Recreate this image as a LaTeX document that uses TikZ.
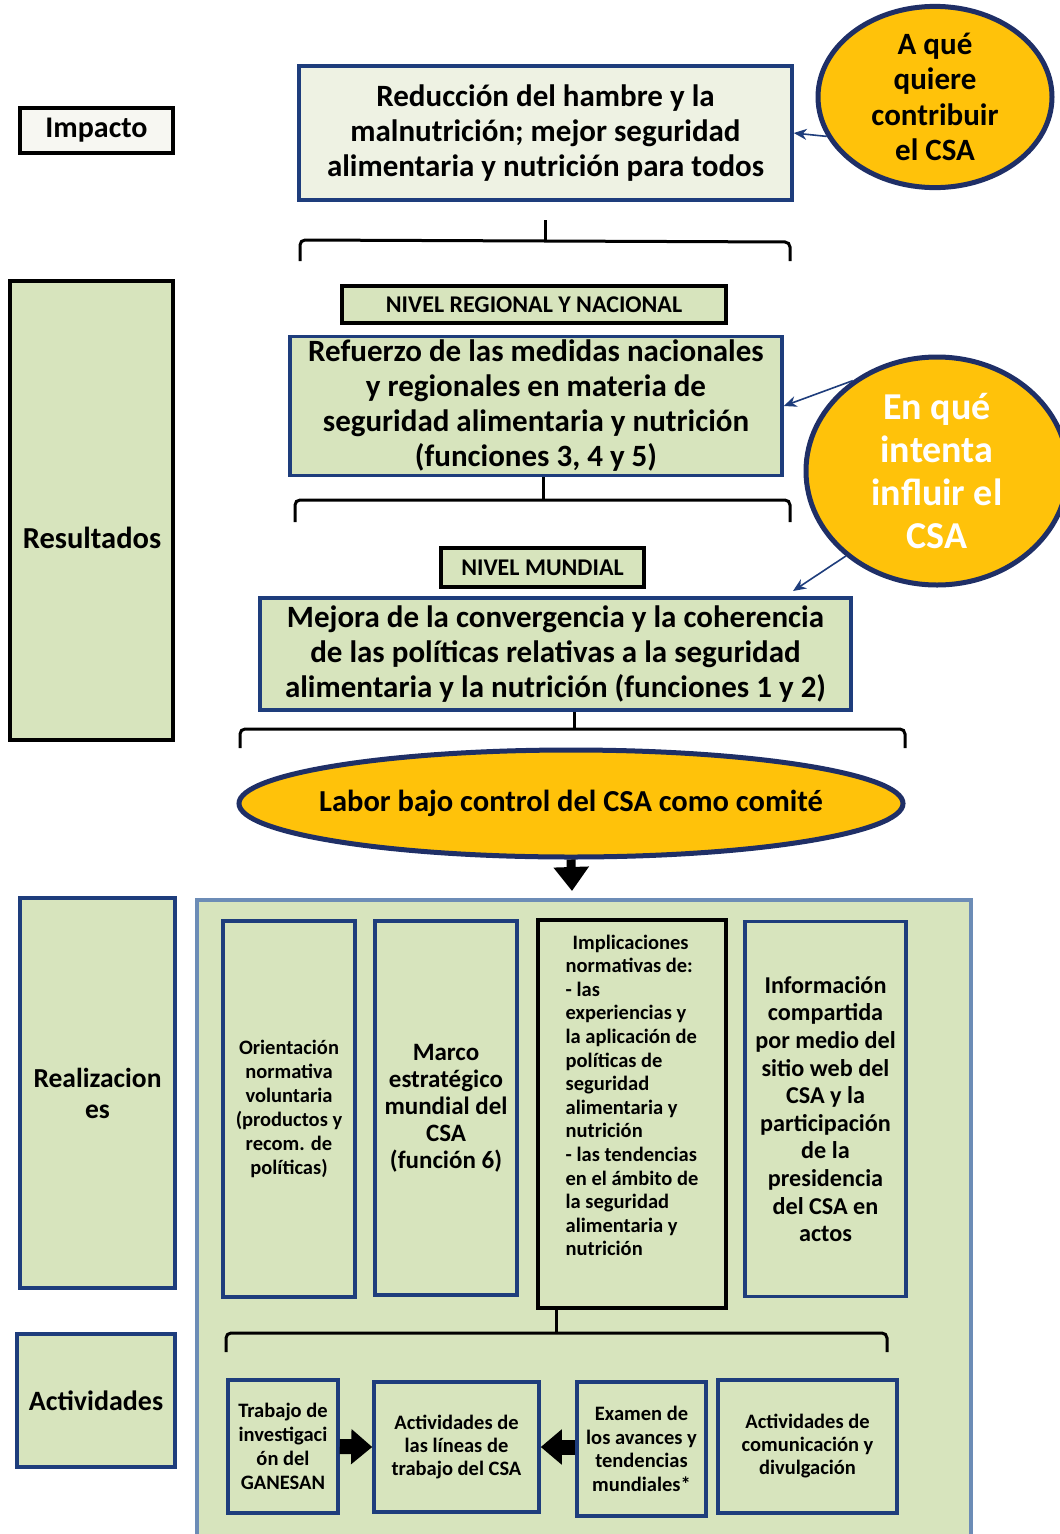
\documentclass[tikz,border=0pt]{standalone}
\usepackage{fontspec}
\setmainfont{Carlito}
\usetikzlibrary{arrows.meta,shapes.geometric,calc}
\definecolor{lgreen}{HTML}{D7E4BD}
\definecolor{pale}{HTML}{EEF2E3}
\definecolor{offwhite}{HTML}{F7F7F2}
\definecolor{navy}{HTML}{1E3D7C}
\definecolor{dnavy}{HTML}{1F2F66}
\definecolor{gold}{HTML}{FFC20A}
\definecolor{steel}{HTML}{6C8CB6}
\newcommand{\myfs}[2]{\fontsize{#1}{#2}\selectfont\bfseries}
\begin{document}
\begin{tikzpicture}[x=1pt,y=-1pt,
  sz/.style n args={2}{minimum width=#1pt, minimum height=#2pt},
  bluebox/.style={draw=navy, line width=3.5pt, fill=lgreen, inner sep=1pt, align=center, text=black},
  blackbox/.style={draw=black, line width=3.5pt, fill=lgreen, inner sep=1pt, align=center, text=black},
  goldell/.style={ellipse, draw=dnavy, line width=5pt, fill=gold, inner sep=0pt, align=center},
  thinarrow/.style={draw=navy, line width=1.6pt, -{Stealth[length=13pt,width=11pt]}},
  bracketline/.style={draw=black, line width=3pt, rounded corners=5pt},
  bigarrow/.style={draw=black, line width=9pt, -{Triangle[width=34pt,length=24pt]}},
  sidearrow/.style={draw=black, line width=15pt, -{Triangle[width=34pt,length=21pt]}}
]
\useasboundingbox (0,0) rectangle (1060,1534);
\fill[white] (0,0) rectangle (1060,1534);

% ---------- Impact level ----------
\node[blackbox, fill=offwhite, sz={153}{45}, font=\myfs{30}{34}] (impacto) at (96.5,130.5) {Impacto};
\node[bluebox, fill=pale, sz={493}{134}, font=\myfs{31}{35}] (top) at (545.5,133)
  {Reducción del hambre y la\\ malnutrición; mejor seguridad\\ alimentaria y nutrición para todos};
\node[goldell, sz={234}{178}, font=\myfs{31}{35.5}] (c1) at (935,97)
  {A qué\\ quiere\\ contribuir\\ el CSA};
\draw[thinarrow] (c1.200) -- (top.east);

% bracket 1
\coordinate (b1) at (545,220);
\draw[bracketline] (b1) -- (545,241);
\draw[bracketline] (300,261) -- (300,240) -- (790,242) -- (790,261);

% ---------- Results ----------
\node[blackbox, sz={163}{459}] (res) at (91.5,510.5) {};
\node[font=\myfs{30.5}{34}] (restxt) at (92,538) {Resultados};

\node[blackbox, sz={384}{37}, font=\myfs{24}{26}] (nivr) at (534,304.5) {NIVEL REGIONAL Y NACIONAL};
\node[bluebox, sz={492}{139}, font=\myfs{31}{35}] (ref) at (536,406)
  {Refuerzo de las medidas nacionales\\ y regionales en materia de\\ seguridad alimentaria y nutrición\\ (funciones 3, 4 y 5)};

% bracket 2
\draw[bracketline] (ref.south -| 543,0) -- (543,500);
\draw[bracketline] (295,522) -- (295,500) -- (790,500) -- (790,522);

\node[blackbox, sz={203}{39}, font=\myfs{24}{26}] (nivm) at (542.5,567.5) {NIVEL MUNDIAL};
\node[bluebox, sz={591}{112}, font=\myfs{31}{35}] (mej) at (555.5,654)
  {Mejora de la convergencia y la coherencia\\ de las políticas relativas a la seguridad\\ alimentaria y la nutrición (funciones 1 y 2)};

\begin{scope}
\clip (0,0) rectangle (1060,1534);
\node[goldell, sz={262}{228}, font=\myfs{38}{43}, text=white] (c2) at (937,471)
  {En qué\\ intenta\\ influir el\\ CSA};
\end{scope}
\draw[thinarrow] (c2.133) -- (ref.east);
\coordinate (mejtip) at (793,591);
\draw[thinarrow] (c2.223) -- (mejtip);

% bracket 3
\draw[bracketline] (mej.south -| 574,0) -- (574,729);
\draw[bracketline] (240,748) -- (240,729) -- (905,729) -- (905,748);

\node[goldell, sz={664}{107}, inner xsep=-30pt, font=\myfs{30.5}{34}] (labor) at (571,803.5)
  {Labor bajo control del CSA como comité};
\coordinate (ltip) at (572,891);
\draw[bigarrow] (labor.south) -- (ltip);

% ---------- Outputs / activities ----------
\fill[lgreen] (197,900) rectangle (971,1534);
\draw[steel, line width=4pt] (197,1534) -- (197,900) -- (971,900) -- (971,1534);

\node[bluebox, sz={155}{390}, font=\myfs{27.5}{31}] (real) at (97.5,1093) {Realizacion\\ es};
\node[bluebox, sz={158}{133}, font=\myfs{28}{31}] (act) at (96,1400.5) {Actividades};

\node[bluebox, sz={132}{376}, font=\myfs{20.5}{24}] (ori) at (289,1109)
  {Orientación\\ normativa\\ voluntaria\\ (productos y\\ recom. de\\ políticas)};
\node[bluebox, sz={142}{374}, font=\myfs{25}{27}] (marco) at (446,1108)
  {Marco\\ estratégico\\ mundial del\\ CSA\\ (función 6)};
\node[blackbox, sz={188}{388}, font=\myfs{20.5}{23.6}, align=left] (impl) at (632,1114)
  {\hspace{7pt}Implicaciones\\ normativas de:\\ - las\\ experiencias y\\ la aplicación de\\ políticas de\\ seguridad\\ alimentaria y\\ nutrición\\ - las tendencias\\ en el ámbito de\\ la seguridad\\ alimentaria y\\ nutrición\\[14pt]\mbox{}};
\node[bluebox, sz={161}{375}, font=\myfs{24.2}{27.6}] (info) at (825.5,1109)
  {Información\\ compartida\\ por medio del\\ sitio web del\\ CSA y la\\ participación\\ de la\\ presidencia\\ del CSA en\\ actos};

% bracket 4
\draw[bracketline] (impl.south -| 556,0) -- (556,1333);
\draw[bracketline] (226,1352) -- (226,1333) -- (887,1333) -- (887,1352);

\node[bluebox, sz={110}{133}, font=\myfs{20.5}{24.2}] (trab) at (283,1446.5)
  {Trabajo de\\ investigaci\\ ón del\\ GANESAN};
\node[bluebox, sz={165}{130}, font=\myfs{20.5}{23}] (actl) at (456.5,1447)
  {Actividades de\\ las líneas de\\ trabajo del CSA};
\node[bluebox, sz={129}{134}, font=\myfs{20.5}{23.5}] (exa) at (641.5,1449)
  {Examen de\\ los avances y\\ tendencias\\ mundiales*};
\node[bluebox, sz={179}{133}, font=\myfs{20.5}{23}] (actc) at (807.5,1446.5)
  {Actividades de\\ comunicación y\\ divulgación};

\draw[sidearrow] (trab.east) -- (actl.west);
\draw[sidearrow] (exa.west |- actl.east) -- (actl.east);
\end{tikzpicture}
\end{document}
